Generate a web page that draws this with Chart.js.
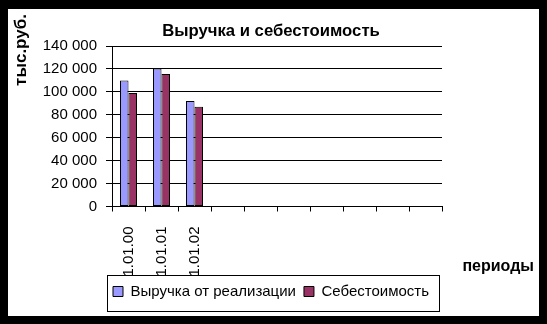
<!DOCTYPE html>
<html>
<head>
<meta charset="utf-8">
<script src="https://cdn.jsdelivr.net/npm/chart.js@4/dist/chart.umd.min.js"></script>
<style>
  html, body { margin: 0; padding: 0; background: #000; width: 547px; height: 324px; overflow: hidden; }
  #wrap { position: absolute; left: 8px; top: 9px; width: 531px; height: 307px; background: #fff; }
  canvas { display: block; }
</style>
</head>
<body>
<div id="wrap"><canvas id="c"></canvas></div>
<script>
// ---- data ----
const categories = ['1.01.00', '1.01.01', '1.01.02', '', '', '', '', '', '', ''];
const revenue = [110000, 120500, 92000, null, null, null, null, null, null, null];
const cost    = [99000, 115500, 87000, null, null, null, null, null, null, null];
const seriesNames = ['Выручка от реализации', 'Себестоимость'];
const chartTitle = 'Выручка и себестоимость';
const yTitle = 'тыс.руб.';
const xTitle = 'периоды';
const yMin = 0, yMax = 140000, yStep = 20000;

const FONT = '"Liberation Sans", Arial, sans-serif';
Chart.defaults.font.family = FONT;
Chart.defaults.color = '#000';

function fmt(v) { return String(v).replace(/\B(?=(\d{3})+(?!\d))/g, ' '); }

const extras = {
  id: 'extras',
  afterDraw(chart) {
    const ctx = chart.ctx, lg = chart.legend, hb = lg.legendHitBoxes, ca = chart.chartArea;
    ctx.save();
    ctx.strokeStyle = '#000';
    ctx.lineWidth = 1;
    const l = Math.min(...hb.map(b => b.left)) - 6;
    const r = Math.max(...hb.map(b => b.left + b.width)) + 10;
    ctx.strokeRect(Math.round(l) + 0.5, Math.round(lg.top) - 0.5, Math.round(r - l), Math.round(lg.height) + 3);
    ctx.fillStyle = '#000';
    ctx.font = 'bold 17px ' + FONT;
    ctx.save();
    ctx.translate(13, ca.top - 32);
    ctx.rotate(-Math.PI / 2);
    ctx.textAlign = 'right';
    ctx.textBaseline = 'middle';
    ctx.fillText(yTitle, 0, 0);
    ctx.restore();
    ctx.font = 'bold 16px ' + FONT;
    ctx.textAlign = 'right';
    ctx.textBaseline = 'middle';
    ctx.fillText(xTitle, chart.width - 5, ca.bottom + 60);
    ctx.restore();
  }
};

new Chart(document.getElementById('c'), {
  type: 'bar',
  data: {
    labels: categories,
    datasets: [
      { label: seriesNames[0], data: revenue, backgroundColor: '#9999FF', borderColor: '#000', borderWidth: 1, borderSkipped: false, yAxisID: 'y' },
      { label: seriesNames[1], data: cost, backgroundColor: '#993366', borderColor: '#000', borderWidth: 1, borderSkipped: false, yAxisID: 'y' }
    ]
  },
  options: {
    responsive: true,
    maintainAspectRatio: false,
    animation: false,
    datasets: { bar: { categoryPercentage: 0.515, barPercentage: 1.0 } },
    layout: { padding: { left: 2, right: 7, top: 12, bottom: 7 } },
    plugins: {
      title: { display: true, text: chartTitle, font: { size: 16.7, weight: 'bold' }, color: '#000', padding: { top: 0, bottom: 5 } },
      legend: {
        position: 'bottom',
        labels: { boxWidth: 10, boxHeight: 10, padding: 8, font: { size: 15 }, color: '#000' }
      },
      tooltip: { enabled: false }
    },
    scales: {
      x: {
        grid: { display: true, drawOnChartArea: false, drawTicks: true, tickLength: 5, color: '#000', offset: true },
        border: { display: true, color: '#000', width: 1 },
        ticks: { autoSkip: false, minRotation: 90, maxRotation: 90, padding: 15, font: { size: 15 }, color: '#000' },
        afterFit(s) { s.height = 69.5; }
      },
      y: {
        position: 'left',
        min: yMin, max: yMax,
        grid: { color: '#000', tickLength: 6, drawTicks: true },
        border: { display: true, color: '#000', width: 1 },
        ticks: { stepSize: yStep, padding: 9, font: { size: 15 }, color: '#000', callback: v => fmt(v) },
        afterFit(s) { s.width = 102; }
      },
      y2: {
        position: 'right',
        display: true,
        grid: { display: false, drawTicks: false },
        border: { display: false },
        ticks: { display: false },
        afterFit(s) { s.width = 90; }
      }
    }
  },
  plugins: [extras]
});
</script>
</body>
</html>
